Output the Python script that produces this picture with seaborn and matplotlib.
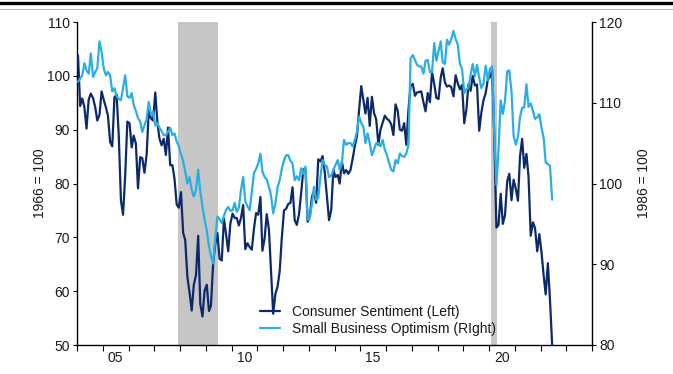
import pandas as pd
import matplotlib
matplotlib.use("Agg")
import matplotlib.pyplot as plt
import matplotlib.dates as mdates
from matplotlib.lines import Line2D
import seaborn as sns

# Monthly readings, January 2004 through June 2022
consumer_sentiment = [
    103.8, 94.4, 95.8, 94.2, 90.2, 95.6, 96.7, 95.9, 94.2, 91.7, 92.8, 97.1,
    95.5, 94.1, 92.6, 87.7, 86.9, 96.0, 96.5, 89.1, 76.9, 74.2, 81.6, 91.5,
    91.2, 86.7, 88.9, 87.4, 79.1, 84.9, 84.7, 82.0, 85.4, 93.6, 92.1, 91.7,
    96.9, 91.3, 88.4, 87.1, 88.3, 85.3, 90.4, 83.4, 83.4, 80.9, 76.1, 75.5,
    78.4, 70.8, 69.5, 62.6, 59.8, 56.4, 61.2, 63.0, 70.3, 57.6, 55.3, 60.1,
    61.2, 56.3, 57.3, 65.1, 68.7, 70.8, 66.0, 65.7, 73.5, 70.6, 67.4, 72.5,
    74.4, 73.6, 73.6, 72.2, 73.6, 76.0, 67.8, 68.9, 68.2, 67.7, 71.6, 74.5,
    74.2, 77.5, 67.5, 69.8, 74.3, 71.5, 63.7, 55.8, 59.5, 60.8, 63.7, 69.9,
    75.0, 75.3, 76.2, 76.4, 79.3, 73.2, 72.3, 74.3, 78.3, 82.6, 82.7, 72.9,
    73.8, 77.6, 78.6, 76.4, 84.5, 84.1, 85.1, 82.1, 77.5, 73.2, 75.1, 82.5,
    81.2, 81.6, 80.0, 84.1, 81.9, 82.5, 81.8, 82.5, 84.6, 86.9, 88.8, 93.6,
    98.1, 95.4, 93.0, 95.9, 90.7, 96.1, 93.1, 91.9, 87.2, 90.0, 91.3, 92.6,
    92.0, 91.7, 91.0, 89.0, 94.7, 93.5, 90.0, 89.8, 91.2, 87.2, 93.8, 98.2,
    98.5, 96.3, 96.9, 97.0, 97.1, 95.1, 93.4, 96.8, 95.1, 100.7, 98.5, 95.9,
    95.7, 99.7, 101.4, 98.8, 98.0, 98.2, 97.9, 96.2, 100.1, 98.6, 97.5, 98.3,
    91.2, 93.8, 98.4, 97.2, 100.0, 98.2, 98.4, 89.8, 93.2, 95.5, 96.8, 99.3,
    99.8, 101.0, 89.1, 71.8, 72.3, 78.1, 72.5, 74.1, 80.4, 81.8, 76.9, 80.7,
    79.0, 76.8, 84.9, 88.3, 82.9, 85.5, 81.2, 70.3, 72.8, 71.7, 67.4, 70.6,
    67.2, 62.8, 59.4, 65.2, 58.4, 50.0,
]

small_business_optimism = [
    112.6, 113.0, 113.4, 114.9, 114.0, 113.6, 116.1, 113.2, 113.8, 114.3, 117.6, 116.3,
    114.2, 113.4, 113.8, 113.4, 111.4, 111.8, 110.8, 110.5, 110.3, 111.8, 113.4, 110.8,
    110.6, 111.2, 109.7, 109.0, 108.1, 107.7, 106.4, 107.2, 108.0, 110.1, 108.5, 108.9,
    107.2, 107.5, 106.9, 106.5, 106.0, 106.0, 106.4, 106.9, 106.0, 106.2, 105.2, 104.6,
    103.6, 102.8, 101.5, 100.0, 100.8, 99.2, 98.4, 99.2, 101.7, 99.0, 97.1, 95.5,
    94.2, 92.2, 91.0, 90.1, 93.2, 95.9, 95.6, 95.1, 96.0, 96.7, 97.1, 96.6,
    96.7, 97.6, 96.5, 97.0, 99.2, 100.8, 97.8, 97.2, 96.7, 99.0, 101.3, 101.8,
    102.5, 103.7, 101.5, 100.8, 100.5, 99.6, 98.5, 96.3, 97.5, 99.5, 100.4, 101.8,
    102.9, 103.5, 103.5, 102.8, 102.5, 100.4, 100.9, 100.4, 101.9, 101.2, 102.1, 95.5,
    95.7, 97.5, 99.6, 98.0, 98.2, 100.8, 102.9, 102.3, 102.1, 100.8, 101.0, 101.7,
    102.3, 102.9, 101.7, 102.5, 105.4, 104.8, 105.0, 105.0, 104.6, 105.4, 106.4, 108.3,
    107.5, 107.0, 105.0, 106.2, 105.0, 103.5, 104.2, 105.0, 105.0, 104.6, 105.4, 104.2,
    103.5, 102.5, 101.7, 101.5, 102.9, 102.5, 103.7, 103.4, 103.3, 103.7, 104.8, 115.5,
    115.9, 115.3, 114.7, 114.5, 114.5, 113.6, 115.2, 115.3, 113.8, 113.8, 117.4, 115.2,
    116.4, 117.6, 115.0, 114.8, 117.8, 117.2, 117.9, 118.9, 117.9, 117.2, 114.8, 114.2,
    111.2, 111.7, 111.8, 113.5, 114.8, 113.3, 114.7, 113.1, 111.8, 112.4, 114.6, 112.8,
    114.2, 114.5, 106.4, 99.8, 104.2, 110.3, 108.6, 110.2, 113.9, 114.0, 111.4, 105.9,
    104.8, 105.8, 108.2, 109.4, 109.4, 112.3, 109.5, 109.9, 109.0, 108.0, 108.2, 108.6,
    106.9, 105.6, 102.6, 102.4, 102.2, 98.0,
]

first_month = "2004-01-01"
series_names = ["Consumer Sentiment (Left)", "Small Business Optimism (RIght)"]
left_title = "1966 = 100"
right_title = "1986 = 100"
recession_starts = ["2007-12-01", "2020-02-01"]
recession_ends = ["2009-06-30", "2020-04-30"]
left_ticks = [50, 60, 70, 80, 90, 100, 110]
right_ticks = [80, 90, 100, 110, 120]

DARK = "#0c2a6a"
LIGHT = "#2aaee4"
SHADE = "#c6c6c6"
TEXT = "#1a1a1a"

sns.set_style("white")
plt.rcParams["font.family"] = ["Liberation Sans", "DejaVu Sans"]

dates = pd.date_range(first_month, periods=len(consumer_sentiment), freq="MS") + pd.Timedelta(days=14)
df = pd.DataFrame({
    "date": dates,
    "sentiment": consumer_sentiment,
    "optimism": small_business_optimism,
})

fig = plt.figure(figsize=(6.73, 3.74), dpi=100)
ax = fig.add_axes([77 / 673, 1 - 345 / 374, 515 / 673, 323 / 374])
ax2 = ax.twinx()

for s, e in zip(recession_starts, recession_ends):
    ax.axvspan(pd.Timestamp(s), pd.Timestamp(e), color=SHADE, lw=0, zorder=0)

sns.lineplot(data=df, x="date", y="sentiment", ax=ax, color=DARK, lw=1.6,
             label=series_names[0], zorder=3)
sns.lineplot(data=df, x="date", y="optimism", ax=ax2, color=LIGHT, lw=1.6,
             label=series_names[1], zorder=2)

ax.set_xlim(pd.Timestamp("2004-01-01"), pd.Timestamp("2024-01-01"))
ax.set_ylim(50, 110)
ax2.set_ylim(80, 120)
ax.set_yticks(left_ticks)
ax2.set_yticks(right_ticks)

# year boundaries get tick marks, labels sit mid-year
ax.xaxis.set_major_locator(mdates.YearLocator(1))
ax.xaxis.set_major_formatter(plt.NullFormatter())
ax.xaxis.set_minor_locator(mdates.YearLocator(5, month=7, day=1))
ax.xaxis.set_minor_formatter(mdates.DateFormatter("%y"))
ax.tick_params(axis="x", which="major", direction="out", length=4.5, width=0.8,
               color="black", bottom=True)
ax.tick_params(axis="x", which="minor", length=0, pad=4, labelsize=10, labelcolor=TEXT)

ax.tick_params(axis="y", direction="out", length=3, width=0.8, color="black",
               labelsize=10, labelcolor=TEXT, pad=2, left=True)
ax2.tick_params(axis="y", direction="out", length=3, width=0.8, color="black",
                labelsize=10, labelcolor=TEXT, pad=2, right=True)

ax.set_xlabel("")
ax.set_ylabel(left_title, fontsize=10, color=TEXT, labelpad=0)
ax2.set_ylabel(right_title, fontsize=10, color=TEXT, labelpad=11, rotation=90)

for a in (ax, ax2):
    a.grid(False)
    a.set_facecolor("none")
    a.spines["top"].set_visible(False)
ax.spines["right"].set_visible(False)
ax2.spines["left"].set_visible(False)
ax2.spines["bottom"].set_visible(False)
for sp in (ax.spines["left"], ax.spines["bottom"], ax2.spines["right"]):
    sp.set_color("black")
    sp.set_linewidth(1.0)

handles = ax.get_legend().legend_handles + ax2.get_legend().legend_handles
ax.get_legend().remove()
ax2.get_legend().remove()
ax2.legend(handles, series_names, loc="upper left", bbox_to_anchor=(0.345, 0.14),
           frameon=False, fontsize=10, handlelength=1.4, handletextpad=0.9,
           labelspacing=0.2, borderaxespad=0, labelcolor=TEXT)

# page rules across the top
fig.add_artist(Line2D([0, 1], [1 - 2.5 / 374, 1 - 2.5 / 374], color="black", lw=2.4,
                      transform=fig.transFigure))
fig.add_artist(Line2D([0, 1], [1 - 8.5 / 374, 1 - 8.5 / 374], color="#b8b8b8", lw=0.8,
                      transform=fig.transFigure))

fig.savefig("out.png", dpi=100, facecolor="white")
